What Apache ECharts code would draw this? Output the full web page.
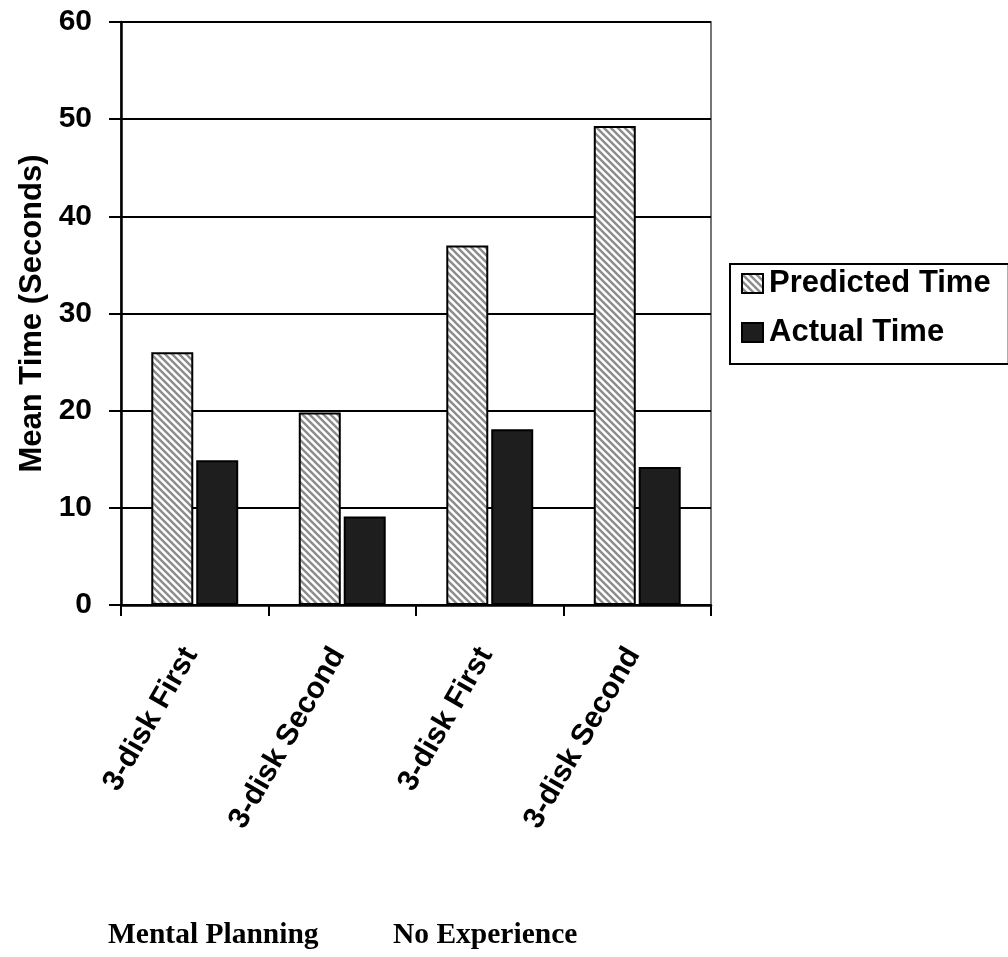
<!DOCTYPE html>
<html>
<head>
<meta charset="utf-8">
<script src="https://cdn.jsdelivr.net/npm/echarts@6/dist/echarts.min.js"></script>
<style>
  html, body { margin: 0; padding: 0; background: #fff; }
  #chart { width: 1008px; height: 957px; }
</style>
</head>
<body>
<div id="chart"></div>
<script>
// Task condition labels along the x axis
const categories = ['3-disk First', '3-disk Second', '3-disk First', '3-disk Second'];
// Mean times in seconds
const predictedTime = [26, 19.8, 37, 49.3];
const actualTime = [14.9, 9.1, 18.1, 14.2];
// Value axis ticks
const yMin = 0, yMax = 60, yStep = 10;
// Group captions under the axis
const groupLabels = ['Mental Planning', 'No Experience'];

const SANS = '"Liberation Sans", Arial, sans-serif';
const SERIF = '"Liberation Serif", "Times New Roman", serif';

// Diagonal hatch fill for the predicted-time bars
function makeHatch() {
  const s = 7;
  const c = document.createElement('canvas');
  c.width = s; c.height = s;
  const g = c.getContext('2d');
  g.fillStyle = '#ffffff';
  g.fillRect(0, 0, s, s);
  g.strokeStyle = '#8c8c8c';
  g.lineWidth = 2.4;
  for (let k = -1; k <= 1; k++) {
    g.beginPath();
    g.moveTo(-1, -1 + k * s);
    g.lineTo(s + 1, s + 1 + k * s);
    g.stroke();
  }
  return c;
}
const hatch = { image: makeHatch(), repeat: 'repeat' };

const chart = echarts.init(document.getElementById('chart'));
chart.setOption({
  animation: false,
  backgroundColor: '#ffffff',
  grid: {
    left: 121, right: 297, top: 22, bottom: 352,
    show: true, borderColor: '#4a4a4a', borderWidth: 1.5,
    backgroundColor: 'transparent'
  },
  legend: {
    orient: 'vertical',
    left: 730, top: 264,
    padding: [4, 18, 16, 11],
    itemGap: 18,
    itemWidth: 21, itemHeight: 19,
    icon: 'rect',
    borderColor: '#000', borderWidth: 2,
    textStyle: { fontFamily: SANS, fontWeight: 'bold', fontSize: 31, color: '#000', lineHeight: 30, padding: [0, 0, 0, 1] },
    data: ['Predicted Time', 'Actual Time']
  },
  xAxis: {
    type: 'category',
    data: categories,
    boundaryGap: true,
    axisLine: { lineStyle: { color: '#000', width: 2.5 } },
    axisTick: { show: true, length: 11, lineStyle: { color: '#000', width: 2 } },
    axisLabel: {
      interval: 0, rotate: 60, margin: 38,
      padding: [0, 8, 0, 0],
      fontFamily: SANS, fontWeight: 'bold', fontSize: 30, color: '#000'
    }
  },
  yAxis: {
    type: 'value',
    min: yMin, max: yMax, interval: yStep,
    name: 'Mean Time (Seconds)',
    nameLocation: 'middle',
    nameGap: 70,
    nameTextStyle: { fontFamily: SANS, fontWeight: 'bold', fontSize: 31, color: '#000' },
    axisLine: { show: true, lineStyle: { color: '#000', width: 2.5 } },
    axisTick: { show: true, length: 12, lineStyle: { color: '#000', width: 2 } },
    axisLabel: { margin: 29, fontFamily: SANS, fontWeight: 'bold', fontSize: 30, color: '#000' },
    splitLine: { show: true, lineStyle: { color: '#000', width: 2 } }
  },
  series: [
    {
      name: 'Predicted Time',
      type: 'bar',
      data: predictedTime,
      barWidth: 42,
      barGap: '7%',
      itemStyle: { color: hatch, borderColor: '#000', borderWidth: 2 }
    },
    {
      name: 'Actual Time',
      type: 'bar',
      data: actualTime,
      barWidth: 42,
      itemStyle: { color: '#1e1e1e', borderColor: '#000', borderWidth: 2 }
    }
  ],
  graphic: [
    {
      type: 'text', left: 108, top: 920,
      style: { text: groupLabels[0], font: 'bold 29.5px ' + SERIF, fill: '#000' }
    },
    {
      type: 'text', left: 393, top: 920,
      style: { text: groupLabels[1], font: 'bold 29.5px ' + SERIF, fill: '#000' }
    }
  ]
});
</script>
</body>
</html>
